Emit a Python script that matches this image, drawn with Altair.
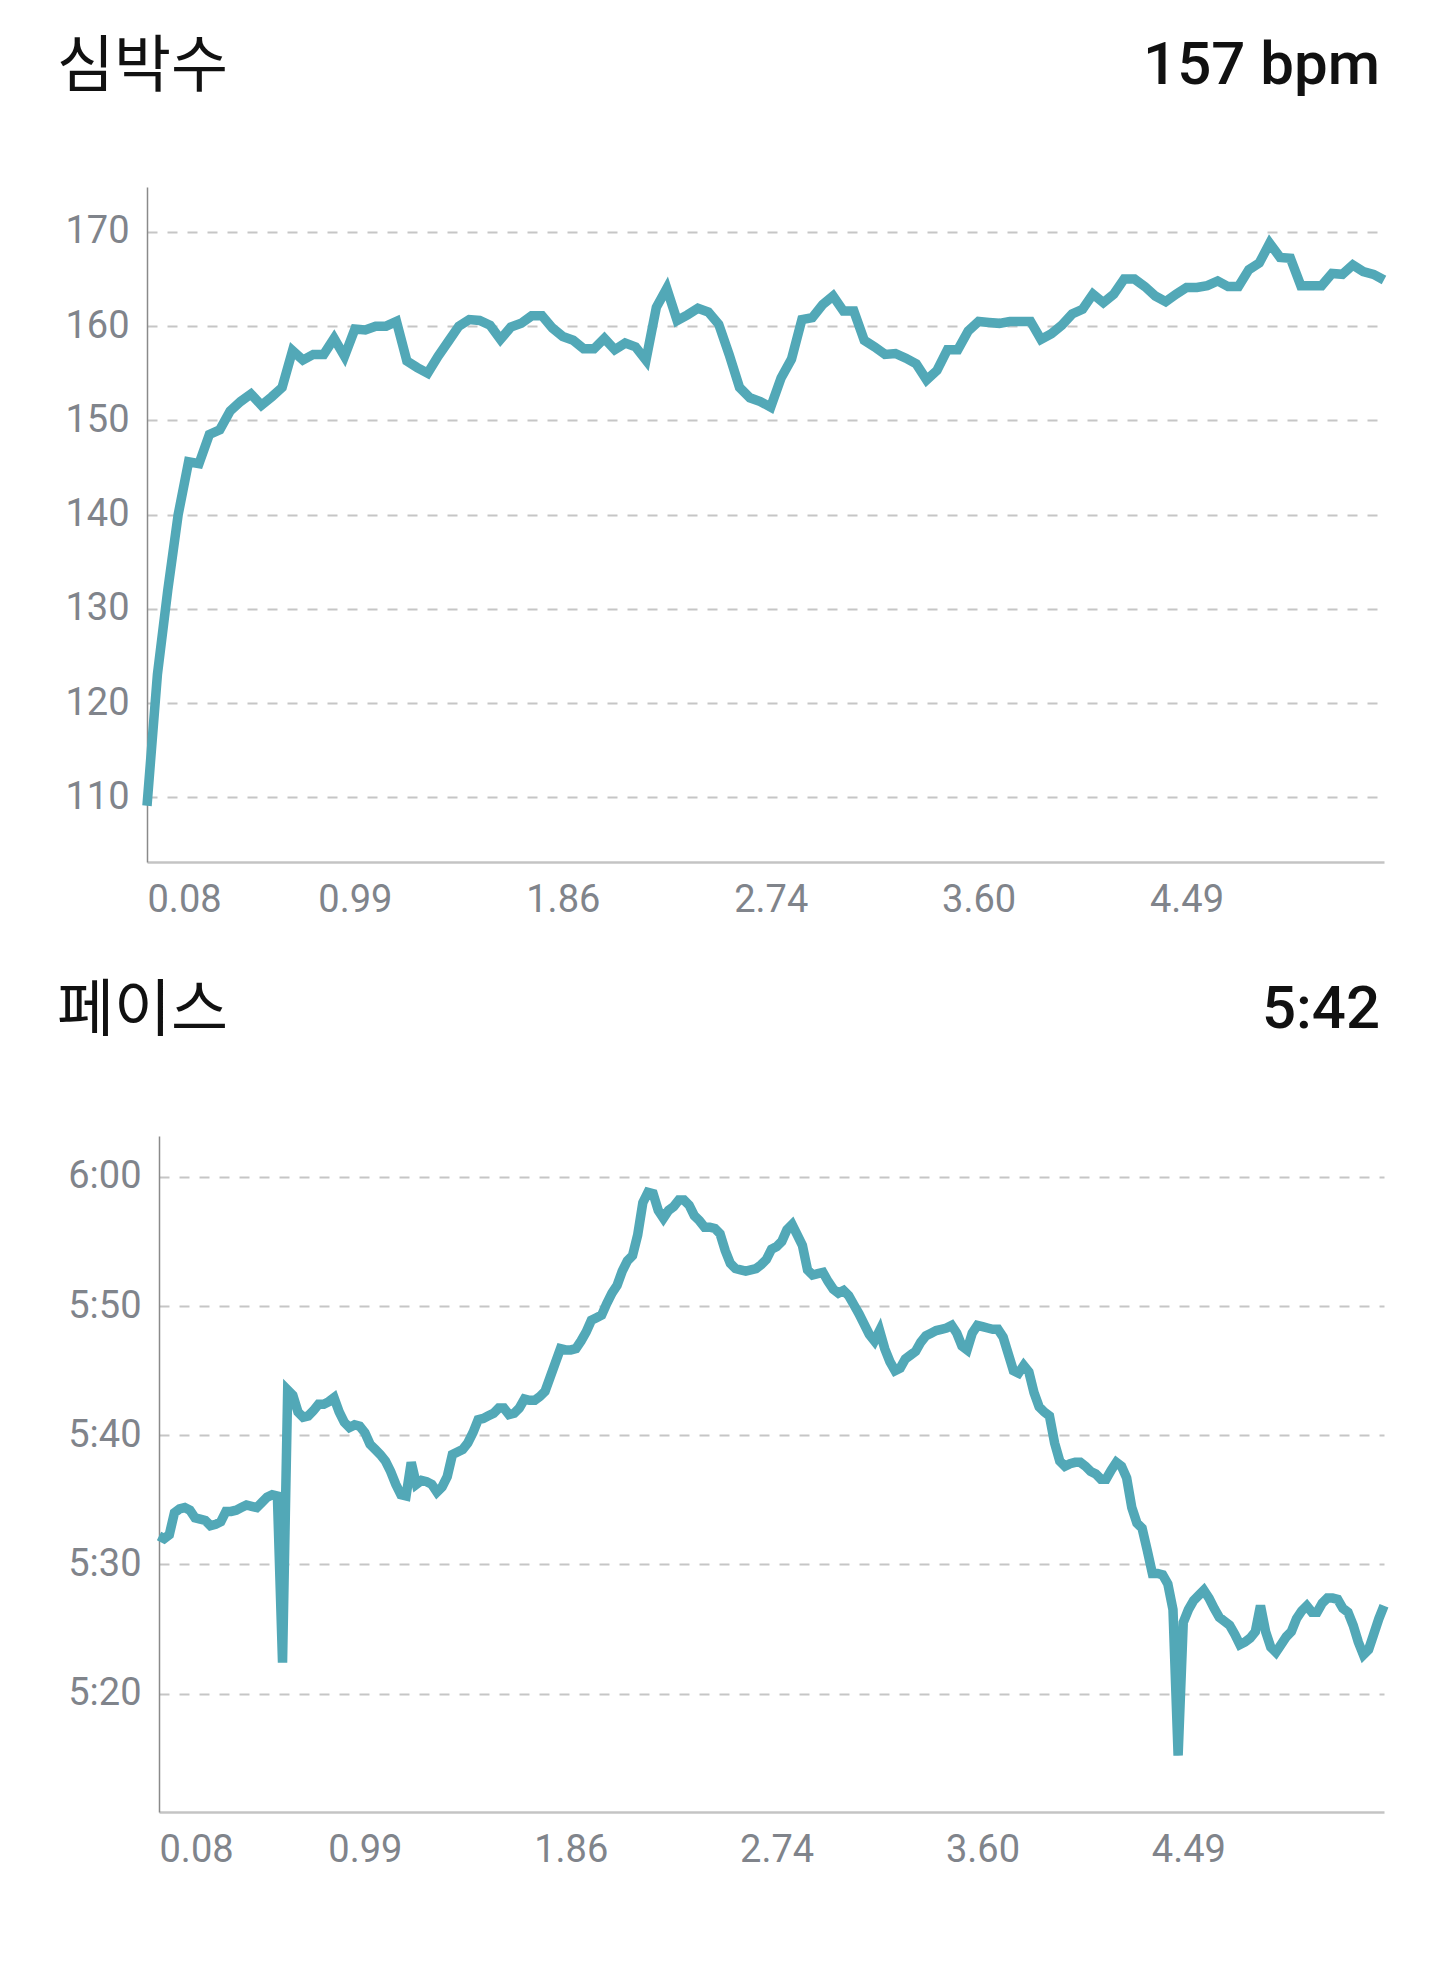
import json
import altair as alt
import pandas as pd

# ---------------- text ----------------
hr_title = ["심박수"]
hr_value = ["157 bpm"]
pace_title = ["페이스"]
pace_value = ["5:42"]
dist_labels = ["0.08", "0.99", "1.86", "2.74", "3.60", "4.49"]

# ---------------- data ----------------
# heart rate (bpm), one sample per step; a distance label every 20 samples
hr_bpm = [
    109.1, 123, 132, 140, 145.6, 145.4, 148.5, 149, 151, 152,
    152.8, 151.6, 152.5, 153.5, 157.4, 156.4, 157, 157, 158.7, 156.8,
    159.7, 159.6, 160, 160, 160.5, 156.3, 155.6, 155, 156.8, 158.4,
    160, 160.7, 160.6, 160.1, 158.6, 159.9, 160.3, 161.1, 161.1, 159.8,
    158.9, 158.5, 157.6, 157.6, 158.7, 157.5, 158.2, 157.8, 156.4, 162,
    164, 160.6, 161.2, 161.9, 161.5, 160.2, 157, 153.5, 152.4, 152,
    151.4, 154.5, 156.5, 160.7, 160.9, 162.3, 163.2, 161.6, 161.6, 158.5,
    157.8, 157, 157.1, 156.6, 156, 154.3, 155.3, 157.5, 157.5, 159.5,
    160.5, 160.4, 160.3, 160.5, 160.5, 160.5, 158.6, 159.2, 160.1, 161.3,
    161.8, 163.4, 162.5, 163.4, 165, 165, 164.2, 163.2, 162.6, 163.4,
    164.1, 164.1, 164.3, 164.8, 164.2, 164.2, 166, 166.7, 168.8, 167.3,
    167.2, 164.3, 164.3, 164.3, 165.6, 165.5, 166.5, 165.8, 165.5, 164.9,
]
hr_step = 20

# pace (seconds per km), one sample per step; a distance label every 40 samples
pace_sec = [
    332.2, 332.0, 332.3, 334.0, 334.3, 334.4, 334.2, 333.6, 333.5, 333.4,
    333.0, 333.1, 333.3, 334.1, 334.1, 334.2, 334.4, 334.6, 334.5, 334.4,
    334.8, 335.2, 335.4, 335.3, 322.4, 343.5, 343.1, 341.8, 341.4, 341.5,
    341.9, 342.4, 342.4, 342.6, 342.9, 341.8, 341.0, 340.6, 340.8, 340.7,
    340.2, 339.3, 338.9, 338.5, 338.0, 337.2, 336.2, 335.4, 335.3, 337.9,
    336.2, 336.5, 336.4, 336.2, 335.6, 336.0, 336.8, 338.5, 338.7, 338.9,
    339.4, 340.2, 341.2, 341.3, 341.5, 341.7, 342.1, 342.1, 341.6, 341.7,
    342.1, 342.8, 342.7, 342.7, 343.0, 343.4, 344.5, 345.6, 346.7, 346.6,
    346.6, 346.7, 347.3, 348.0, 348.9, 349.1, 349.3, 350.2, 351.0, 351.6,
    352.7, 353.5, 353.9, 355.5, 358.0, 358.8, 358.7, 357.4, 356.8, 357.4,
    357.7, 358.2, 358.2, 357.8, 357.0, 356.6, 356.1, 356.1, 356.0, 355.6,
    354.3, 353.3, 352.9, 352.8, 352.7, 352.8, 352.9, 353.2, 353.6, 354.4,
    354.6, 355.0, 355.9, 356.3, 355.5, 354.7, 352.8, 352.4, 352.5, 352.6,
    351.9, 351.3, 351.0, 351.2, 350.8, 350.1, 349.4, 348.6, 347.8, 347.3,
    348.1, 346.7, 345.7, 345.0, 345.2, 345.9, 346.2, 346.5, 347.2, 347.7,
    347.9, 348.1, 348.2, 348.3, 348.5, 347.9, 346.9, 346.6, 347.9, 348.5,
    348.4, 348.3, 348.2, 348.2, 347.6, 346.3, 345.0, 344.8, 345.4, 344.9,
    343.3, 342.2, 341.8, 341.5, 339.4, 338.0, 337.6, 337.8, 337.9, 337.9,
    337.6, 337.2, 337.0, 336.6, 336.6, 337.3, 337.9, 337.6, 336.7, 334.4,
    333.2, 332.8, 331.1, 329.3, 329.3, 329.2, 328.5, 326.5, 315.2, 325.5,
    326.5, 327.2, 327.6, 328.0, 327.4, 326.6, 325.9, 325.6, 325.3, 324.6,
    323.8, 324.0, 324.3, 324.8, 326.8, 324.8, 323.6, 323.2, 323.8, 324.4,
    324.8, 325.8, 326.4, 326.8, 326.3, 326.3, 327.0, 327.4, 327.4, 327.3,
    326.6, 326.3, 325.3, 324.0, 323.0, 323.4, 324.6, 325.8, 326.8,
]
pace_step = 40

hr_ticks = [110, 120, 130, 140, 150, 160, 170]
pace_ticks = [320, 330, 340, 350, 360]

LINE = "#52A8B7"
LABEL = "#80848b"
GRID = "#c6c6c6"
W = 1237


def padded(vals):
    lo, hi = min(vals), max(vals)
    r = hi - lo
    return [lo - 0.1 * r, hi + 0.1 * r]


def panel(values, field, yticks, ylabel_expr, step, inset, height,
          title, value, base_y):
    df = pd.DataFrame({"i": list(range(len(values))), field: values})
    xaxis = alt.Axis(
        values=[step * k for k in range(len(dist_labels))],
        labelExpr=f"{json.dumps(dist_labels)}[round(datum.value / {step})]",
        title=None, grid=False, ticks=False,
        domainColor="#c4c4c4", domainWidth=2.5,
        labelFlush=True, labelPadding=19, labelFontSize=38,
        labelColor=LABEL, labelFont="Roboto", labelBaseline="top",
    )
    yargs = dict(
        values=yticks, title=None, ticks=False, grid=True,
        gridDash=[10, 10], gridColor=GRID, gridWidth=2,
        domainColor="#8a8a8a", domainWidth=1.5,
        labelPadding=18, labelFontSize=38, labelColor=LABEL,
        labelFont="Roboto",
    )
    if inset:
        yargs["offset"] = -inset
    if ylabel_expr:
        yargs["labelExpr"] = ylabel_expr
    xscale = alt.Scale(domain=[0, len(values) - 1], nice=False, zero=False)
    if inset:
        xscale = alt.Scale(domain=[0, len(values) - 1], nice=False, zero=False,
                           range=[inset, W])
    line = alt.Chart(df).mark_line(
        color=LINE, strokeWidth=9.5, clip=False
    ).encode(
        x=alt.X("i:Q", scale=xscale, axis=xaxis),
        y=alt.Y(f"{field}:Q", scale=alt.Scale(domain=padded(values), nice=False, zero=False),
                axis=alt.Axis(**yargs)),
    )
    t1 = alt.Chart(pd.DataFrame({"t": title})).mark_text(
        align="left", baseline="alphabetic", font="Noto Sans CJK KR",
        fontSize=62, fontWeight=400, color="#111111",
    ).encode(text="t:N", x=alt.value(-90), y=alt.value(base_y))
    t2 = alt.Chart(pd.DataFrame({"t": value})).mark_text(
        align="right", baseline="alphabetic", font="Roboto",
        fontSize=60, fontWeight=500, color="#111111",
    ).encode(text="t:N", x=alt.value(W - 4), y=alt.value(base_y - 3))
    return alt.layer(line, t1, t2).properties(width=W, height=height)


pace_expr = ("floor(datum.value / 60) + ':' + "
             "(datum.value % 60 < 10 ? '0' : '') + (datum.value % 60)")

top = panel(hr_bpm, "bpm", hr_ticks, None, hr_step, 0, 675,
            hr_title, hr_value, -100)
bottom = panel(pace_sec, "pace", pace_ticks, pace_expr, pace_step, 12, 676,
               pace_title, pace_value, -105)

chart = alt.vconcat(top, bottom, spacing=61).configure_view(
    strokeWidth=0
).properties(
    padding={"left": 49, "top": 28, "right": 0, "bottom": 20},
    background="white",
)

chart.save("out.html", embed_options={"renderer": "svg", "actions": False})
